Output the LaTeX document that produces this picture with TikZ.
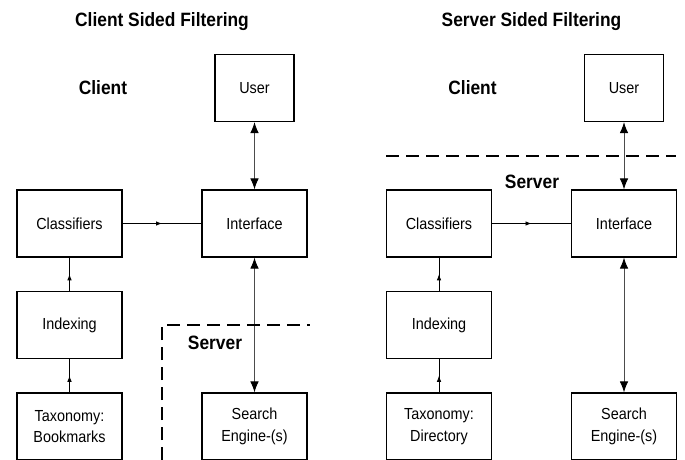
\documentclass[tikz,border=0pt]{standalone}
\usepackage{fontspec}
\setmainfont[FakeStretch=0.9]{Liberation Sans}
\usetikzlibrary{arrows.meta,decorations.markings,calc}
\tikzset{
    block/.style = {draw, rectangle, line width=1.2pt,
        minimum height=67pt, minimum width=105pt, inner sep=2pt,
        align=center, font=\fontsize{16}{21.5}\selectfont},
    head/.style = {font=\fontsize{19.3}{22}\selectfont\bfseries},
    link/.style = {draw, line width=0.8pt, postaction={decorate},
        decoration={markings, mark=at position 0.5 with {\arrow{Latex[length=6pt,width=4.5pt]}}}},
    duplex/.style = {draw, gray!60!black, line width=0.9pt,
        {Latex[length=11pt,width=8.5pt,color=black]}-{Latex[length=11pt,width=8.5pt,color=black]}},
    border/.style = {draw, dash pattern=on 13pt off 7pt, line width=2pt}
}

\begin{document}
\begin{tikzpicture}[x=1pt, y=-1pt, node distance=100pt]
    \useasboundingbox (0,0) rectangle (685,460);
    % the two set-ups share the same boxes
    \foreach \p/\dx/\side/\tax in {1/0/Client/Bookmarks, 2/369.5/Server/Directory}{
        \node [head] (title\p) at (162+\dx,22) {\side{} Sided Filtering};
        \node [head] (client\p) at (103+\dx,88) {Client};
        \node [block] (cls\p) at (69.5+\dx,223.5) {Classifiers};
        \node [block, right of=cls\p, node distance=185pt] (ifc\p) {Interface};
        \node [block, above of=ifc\p, node distance=135.5pt, minimum width=79pt] (user\p) {User};
        \node [block, below of=cls\p, node distance=101.5pt] (idx\p) {Indexing};
        \node [block, below of=idx\p, node distance=101.5pt] (tax\p) {Taxonomy:\\\tax};
        \node [block, below of=ifc\p, node distance=203pt] (eng\p) {Search\\Engine-(s)};
        \draw [link] (tax\p) -- (idx\p);
        \draw [link] (idx\p) -- (cls\p);
        \draw [link] (cls\p) -- (ifc\p);
        \draw [duplex] (user\p) -- (ifc\p);
        \draw [duplex] (ifc\p) -- (eng\p);
    }
    % where the server part begins
    \node [head] (server1) at (215,343) {Server};
    \node [head] (server2) at (532,182) {Server};
    \draw [border] (162,460) |- (310,325);
    \draw [border] (386,155.5) -- (676,155.5);
\end{tikzpicture}
\end{document}
